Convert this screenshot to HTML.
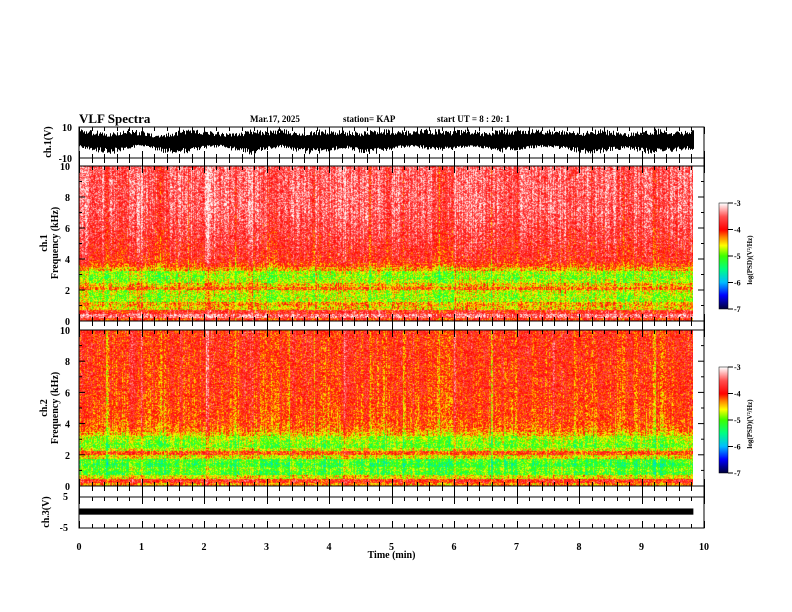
<!DOCTYPE html>
<html><head><meta charset="utf-8">
<style>
html,body{margin:0;padding:0;background:#fff;}
#wrap{position:relative;width:792px;height:612px;overflow:hidden;font-family:"Liberation Serif",serif;}
canvas{position:absolute;}
svg{position:absolute;left:0;top:0;}
text{font-family:"Liberation Serif",serif;font-weight:bold;fill:#000;}
</style></head>
<body>
<div id="wrap">
<canvas id="spec1" width="614" height="155" style="left:79px;top:166px"></canvas>
<canvas id="spec2" width="614" height="156" style="left:79px;top:330px"></canvas>
<canvas id="cb1" width="9" height="106" style="left:719px;top:203px"></canvas>
<canvas id="cb2" width="9" height="106" style="left:719px;top:367px"></canvas>
<svg id="ax" width="792" height="612"></svg>
</div>
<script>
// ---- data ----
const timeRangeMin = [0, 10];
const dataEndMin = 9.83;
const xTickLabels = ["0","1","2","3","4","5","6","7","8","9","10"];
const freqTickLabels = ["0","2","4","6","8","10"];
const cbTickLabels = ["-3","-4","-5","-6","-7"];
// log PSD profile per 0.25 kHz bin (0 -> 10 kHz)
const ch1Profile = [-4.0,-3.4,-3.8,-4.5,-4.4,-4.8,-4.8,-4.7,-4.2,-4.5,-4.8,-4.9,-4.8,-4.4,-4.1,-3.9,
 -3.85,-3.8,-3.8,-3.75,-3.7,-3.7,-3.65,-3.65,-3.6,-3.6,-3.55,-3.55,-3.5,-3.5,-3.5,-3.5,
 -3.5,-3.5,-3.5,-3.5,-3.5,-3.5,-3.5,-3.5];
const ch2Profile = [-4.3,-3.9,-4.6,-5.1,-5.0,-5.2,-5.1,-4.6,-4.1,-4.7,-5.0,-4.9,-4.8,-4.5,-4.3,-4.2,
 -4.15,-4.1,-4.1,-4.1,-4.05,-4.05,-4.05,-4.05,-4.0,-4.0,-4.0,-4.0,-4.0,-4.0,-4.0,-4.0,
 -3.95,-3.95,-3.95,-3.95,-3.95,-3.95,-3.95,-3.95];
// activity offset per 0.2 min
const colActivity = [0.1,0.05,0.0,-0.05,0.1,0.0,-0.1,0.05,0.1,0.0,0.15,0.05,-0.05,0.1,0.0,-0.1,0.0,0.1,0.05,-0.05,
 0.0,0.1,0.05,0.0,-0.1,0.05,0.1,0.0,-0.05,-0.15,0.05,0.1,0.0,0.05,-0.05,0.1,0.0,0.05,0.1,-0.05,
 0.0,0.05,0.1,-0.05,0.0,0.05,-0.1,0.0,0.05,0.0];
// vertical streaks: time (min) and PSD change
const streakTimes = [0.45,1.0,1.3,1.75,2.05,2.5,2.75,3.35,3.75,4.25,4.65,5.2,5.75,6.0,6.6,7.0,7.6,8.2,8.7,9.2,9.6];
const streakDelta = [-0.3,0.25,-0.25,-0.3,0.4,-0.25,0.2,-0.3,-0.25,0.25,-0.3,-0.25,-0.5,0.25,-0.3,-0.25,0.2,-0.3,-0.25,-0.3,0.2];
// ch.1 waveform envelope (V) every 0.25 min
const ch1Upper = [9,8,6,9,8,5,7,9,8,7,6,9,8,9,7,8,9,8,7,9,9,8,9,9,8,9,7,9,8,9,9,8,7,9,8,6,8,9,7,8];
const ch1Lower = [-3,-6,-8,-5,-2,-6,-8,-7,-4,-3,-6,-8,-5,-3,-7,-8,-6,-4,-7,-8,-5,-3,-4,-6,-5,-3,-4,-7,-5,-4,-3,-5,-7,-8,-6,-4,-7,-8,-6,-5];
// ch.3 band (V)
const ch3Band = [1.3,-0.7];

// ---- scales ----
const X0=79,X1=704;
const xs = t => X0 + (t-timeRangeMin[0])/(timeRangeMin[1]-timeRangeMin[0])*(X1-X0);
const NS="http://www.w3.org/2000/svg";
const svg=document.getElementById('ax');
function mk(tag,attrs,txt){const e=document.createElementNS(NS,tag);for(const k in attrs)e.setAttribute(k,attrs[k]);if(txt!==undefined)e.textContent=txt;svg.appendChild(e);return e;}

const stops=[[-7,[0,0,64]],[-6.5,[0,0,255]],[-6,[0,190,255]],[-5.5,[0,255,130]],[-5,[60,255,0]],[-4.6,[255,255,0]],[-4.3,[255,140,0]],[-4,[255,0,0]],[-3.5,[255,80,80]],[-3,[255,255,255]]];
function cmap(v){if(v<=-7)return stops[0][1];if(v>=-3)return stops[stops.length-1][1];
 for(let i=0;i<stops.length-1;i++){const a=stops[i],b=stops[i+1];if(v<=b[0]){const f=(v-a[0])/(b[0]-a[0]);return [0,1,2].map(k=>a[1][k]+(b[1][k]-a[1][k])*f);}}}
function hash(x,y){let h=(x*374761393+y*668265263)>>>0;h=((h^(h>>>13))*1274126177)>>>0;return ((h^(h>>>16))&1023)/1023;}

function drawSpec(id,profile,seed,noise){
 const c=document.getElementById(id),ctx=c.getContext('2d'),W=c.width,H=c.height;
 const img=ctx.createImageData(W,H);
 const wEnd=Math.round(xs(dataEndMin)-X0);
 for(let x=0;x<W;x++){
  const t=x/(X1-X0)*10;
  const act=colActivity[Math.min(colActivity.length-1,Math.floor(t/0.2))];
  let sd=0;for(let i=0;i<streakTimes.length;i++){if(Math.abs(xs(streakTimes[i])-X0-x)<1.2)sd+=streakDelta[i];}
  const colN=(hash(x,seed)-0.5)*0.5;
  for(let y=0;y<H;y++){
   const f=10*(1-y/H);
   const bi=Math.min(profile.length-1,Math.floor(f/0.25));
   let v=profile[bi]+act+colN+sd*(f>3.5?1:0.7)+(hash(x+seed,y)-0.5)*noise;
   const col=cmap(v),p=(y*W+x)*4;
   img.data[p]=col[0];img.data[p+1]=col[1];img.data[p+2]=col[2];img.data[p+3]=x<=wEnd?255:0;
  }
 }
 ctx.putImageData(img,0,0);
}
drawSpec('spec1',ch1Profile,11,0.9);
drawSpec('spec2',ch2Profile,29,0.85);
function drawCb(id){const c=document.getElementById(id),ctx=c.getContext('2d');
 for(let y=0;y<c.height;y++){const v=-3-4*y/(c.height-1);const col=cmap(v);ctx.fillStyle=`rgb(${col.map(Math.round).join(',')})`;ctx.fillRect(0,y,c.width,1);}}
drawCb('cb1');drawCb('cb2');

// ---- panels ----
const panels=[
 {name:'ch1-waveform-panel',top:127,bot:158},
 {name:'ch1-spectrogram-panel',top:166,bot:321},
 {name:'ch2-spectrogram-panel',top:330,bot:486},
 {name:'ch3-waveform-panel',top:497,bot:528}];
const strips=[[158,166],[321,330],[486,497]];

// ch1 waveform: per-pixel vertical strokes within envelope
(function(){
 const ys=v=>142.5-v/10*15.5;
 const n=ch1Upper.length;
 const env=(arr,t)=>{const p=t/0.25;const i=Math.min(n-2,Math.floor(p));const f=p-i;return arr[i]+(arr[i+1]-arr[i])*f;};
 let d='';
 const xEnd=Math.round(xs(dataEndMin));
 for(let x=X0;x<=xEnd;x++){
  const t=(x-X0)/(X1-X0)*10;
  const u=env(ch1Upper,t)*(0.55+0.45*hash(x,3));
  const l=env(ch1Lower,t)*(0.45+0.55*hash(x,7));
  d+='M'+(x+0.5)+','+ys(u).toFixed(1)+'V'+ys(l).toFixed(1);
 }
 const p=mk('path',{d:d,fill:'none',stroke:'#000','stroke-width':1});
 
 // solid core
 let c='';for(let i=0;i<n;i++){const t=Math.min(dataEndMin,i*0.25);c+=(i?'L':'M')+xs(t).toFixed(1)+','+ys(ch1Upper[i]*0.45).toFixed(1);}
 for(let i=n-1;i>=0;i--){const t=Math.min(dataEndMin,i*0.25);c+='L'+xs(t).toFixed(1)+','+ys(ch1Lower[i]*0.4).toFixed(1);}
 const core=mk('path',{d:c+'Z',fill:'#000'});
 
})();
// ch3 band
(function(){const ys=v=>512.5-v/5*15.5;
 const r=mk('rect',{x:xs(0),y:ys(ch3Band[0]),width:xs(dataEndMin)-xs(0),height:ys(ch3Band[1])-ys(ch3Band[0]),fill:'#000'});
 })();

// frames and ticks
panels.forEach(p=>{const r=mk('rect',{x:X0,y:p.top,width:X1-X0,height:p.bot-p.top,fill:'none',stroke:'#000','stroke-width':1});
 
 for(let t=0;t<=10.001;t+=0.2){const x=Math.round(xs(t))+0.5;const major=Math.abs(t-Math.round(t))<1e-6;const L=major?7:4;
  mk('line',{x1:x,x2:x,y1:p.top,y2:p.top+L,stroke:'#000'});mk('line',{x1:x,x2:x,y1:p.bot,y2:p.bot-L,stroke:'#000'});}});
strips.forEach(s=>{mk('rect',{x:X0,y:s[0],width:X1-X0,height:s[1]-s[0],fill:'none',stroke:'#000'});
 for(let t=0;t<=10.001;t+=0.2){const x=Math.round(xs(t))+0.5;const major=Math.abs(t-Math.round(t))<1e-6;
  mk('line',{x1:x,x2:x,y1:s[0],y2:major?s[1]:s[0]+5,stroke:'#000'});}});

// y axes spectrograms
[[166,321],[330,486]].forEach(([top,bot])=>{
 freqTickLabels.forEach((lab,i)=>{const y=bot-(bot-top)*i/5;
  mk('text',{x:70,y:y+4,'font-size':10,'text-anchor':'end'},lab);
  mk('line',{x1:X0,x2:X0+6,y1:y,y2:y,stroke:'#000'});mk('line',{x1:X1,x2:X1-6,y1:y,y2:y,stroke:'#000'});
  if(i<5){const ym=y-(bot-top)/10;mk('line',{x1:X0,x2:X0+3,y1:ym,y2:ym,stroke:'#000'});mk('line',{x1:X1,x2:X1-3,y1:ym,y2:ym,stroke:'#000'});}
 });
});
mk('text',{x:72,y:131,'font-size':10,'text-anchor':'end'},'10');
mk('text',{x:72,y:162,'font-size':10,'text-anchor':'end'},'-10');
mk('text',{x:68,y:500,'font-size':10,'text-anchor':'end'},'5');
mk('text',{x:68,y:531,'font-size':10,'text-anchor':'end'},'-5');
mk('text',{transform:'translate(51,142) rotate(-90)','font-size':10,'text-anchor':'middle'},'ch.1(V)');
mk('text',{transform:'translate(49,512) rotate(-90)','font-size':10,'text-anchor':'middle'},'ch.3(V)');
mk('text',{transform:'translate(47,243) rotate(-90)','font-size':10,'text-anchor':'middle'},'ch.1');
mk('text',{transform:'translate(58,243) rotate(-90)','font-size':10,'text-anchor':'middle'},'Frequency  (kHz)');
mk('text',{transform:'translate(47,408) rotate(-90)','font-size':10,'text-anchor':'middle'},'ch.2');
mk('text',{transform:'translate(58,408) rotate(-90)','font-size':10,'text-anchor':'middle'},'Frequency  (kHz)');
xTickLabels.forEach((lab,i)=>mk('text',{x:xs(i),y:550,'font-size':10,'text-anchor':'middle'},lab));
mk('text',{x:xs(5),y:558,'font-size':10,'text-anchor':'middle'},'Time  (min)');
mk('text',{x:79,y:123,'font-size':13},'VLF  Spectra');
mk('text',{x:250,y:122,'font-size':9},'Mar.17, 2025');
mk('text',{x:343,y:122,'font-size':9},'station= KAP');
mk('text',{x:437,y:122,'font-size':9},'start  UT =   8  : 20: 1');
[[203,309],[367,473]].forEach(([top,bot])=>{
 mk('rect',{x:719,y:top,width:9,height:bot-top,fill:'none',stroke:'#000','stroke-width':0.5});
 cbTickLabels.forEach((lab,i)=>{const y=top+(bot-top)*i/4;mk('line',{x1:728,x2:733,y1:y,y2:y,stroke:'#000'});
  mk('text',{x:734,y:y+3,'font-size':8},lab);});
 mk('text',{transform:`translate(752,${(top+bot)/2+4}) rotate(-90)`,'font-size':7,'text-anchor':'middle'},'log(PSD)(V²/Hz)');
});
</script>
</body></html>
